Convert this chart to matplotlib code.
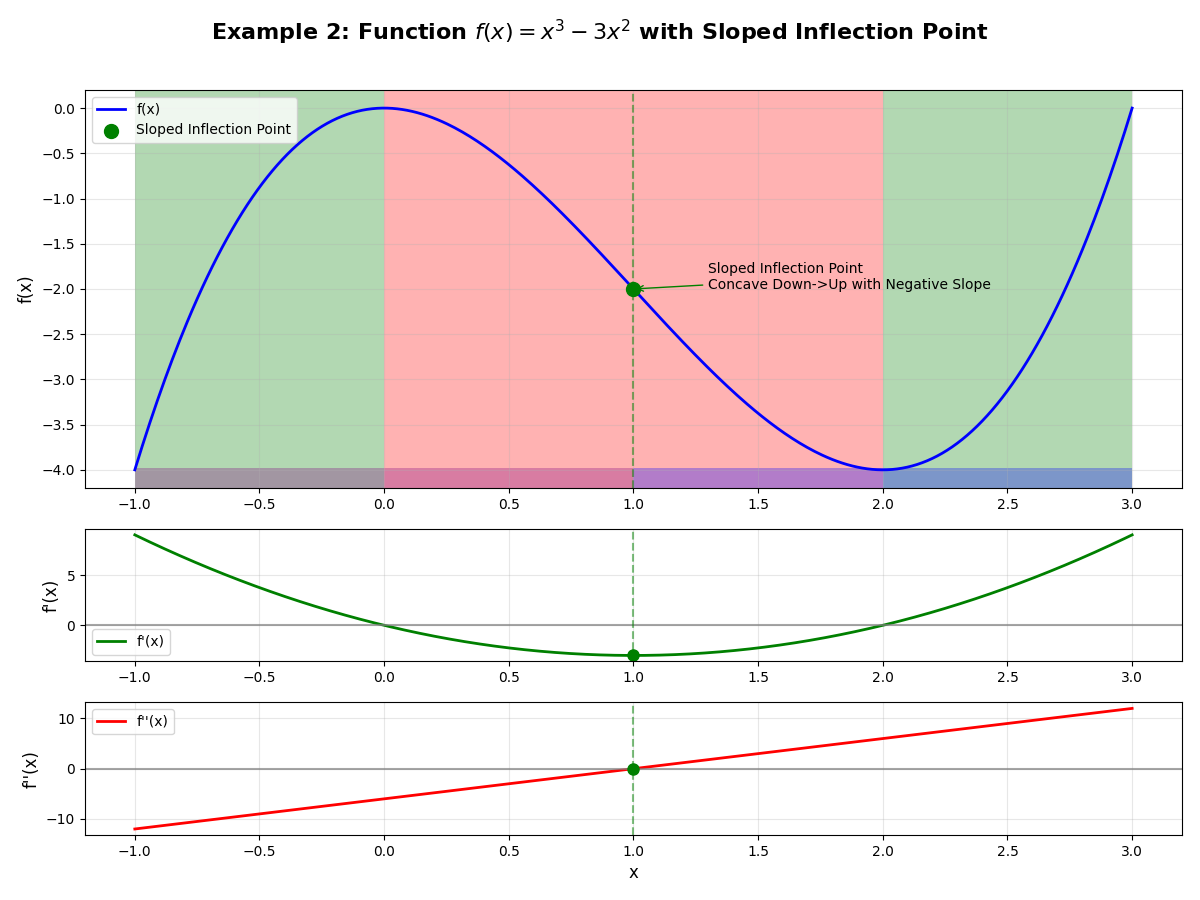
import numpy as np
import matplotlib
matplotlib.use("Agg")
import matplotlib.pyplot as plt

# --- data ---
coeffs = [1, -3, 0, 0]          # f(x) = x^3 - 3x^2
x_range = [-1.0, 3.0]
n_points = 400
inflection_x = 1.0
shade_regions = [(-1.0, -1/3, 'green'), (-1/3, 0.0, 'green'), (0.0, 2.0, 'red'),
                 (2.0, 2.09, 'green'), (2.09, 3.0, 'green')]
strip_regions = [(-1.0, 1.0, 'purple'), (1.0, 3.0, 'blue')]
annot_text = "Sloped Inflection Point\nConcave Down->Up with Negative Slope"
annot_xy_text = (1.3, -2.0)

x = np.linspace(x_range[0], x_range[1], n_points)
p = np.poly1d(coeffs)
dp = p.deriv()
ddp = dp.deriv()
y, y1, y2 = p(x), dp(x), ddp(x)

fig = plt.figure(figsize=(12, 9), dpi=100)
gs = fig.add_gridspec(3, 1, height_ratios=[3, 1, 1], left=0.0708, right=0.985,
                      top=0.9, bottom=0.0722, hspace=0.185)
ax0 = fig.add_subplot(gs[0])
ax1 = fig.add_subplot(gs[1])
ax2 = fig.add_subplot(gs[2])

for a, b, c in shade_regions:
    ax0.axvspan(a, b, color=c, alpha=0.3, lw=0)
for a, b, c in strip_regions:
    ax0.axvspan(a, b, ymin=0, ymax=0.05, color=c, alpha=0.3, lw=0)

ax0.plot(x, y, color='blue', lw=2, label='f(x)')
ax0.scatter([inflection_x], [p(inflection_x)], s=100, color='green', zorder=5,
            label='Sloped Inflection Point')
ax0.axvline(inflection_x, color='green', ls='--', alpha=0.5)
ax0.annotate(annot_text, xy=(inflection_x, p(inflection_x)), xytext=annot_xy_text,
             fontsize=10, arrowprops=dict(arrowstyle='->', color='green'))
ax0.set_ylabel('f(x)', fontsize=12)
ax0.grid(True, alpha=0.3)
ax0.legend(loc='upper left')

ax1.plot(x, y1, color='green', lw=2, label="f'(x)")
ax1.axhline(0, color='gray', alpha=0.7)
ax1.axvline(inflection_x, color='green', ls='--', alpha=0.5)
ax1.plot([inflection_x], [dp(inflection_x)], 'o', color='green', markersize=8)
ax1.set_ylabel("f'(x)", fontsize=12)
ax1.grid(True, alpha=0.3)
ax1.legend(loc='lower left')

ax2.plot(x, y2, color='red', lw=2, label="f''(x)")
ax2.axhline(0, color='gray', alpha=0.7)
ax2.axvline(inflection_x, color='green', ls='--', alpha=0.5)
ax2.plot([inflection_x], [ddp(inflection_x)], 'o', color='green', markersize=8)
ax2.set_ylabel("f''(x)", fontsize=12)
ax2.set_xlabel('x', fontsize=12)
ax2.grid(True, alpha=0.3)
ax2.legend(loc='upper left')

for ax in (ax0, ax1, ax2):
    ax.set_xlim(-1.2, 3.2)

fig.suptitle(r'Example 2: Function $f(x) = x^3 - 3x^2$ with Sloped Inflection Point',
             fontsize=16, fontweight='bold')
fig.savefig('out.png', dpi=100)
